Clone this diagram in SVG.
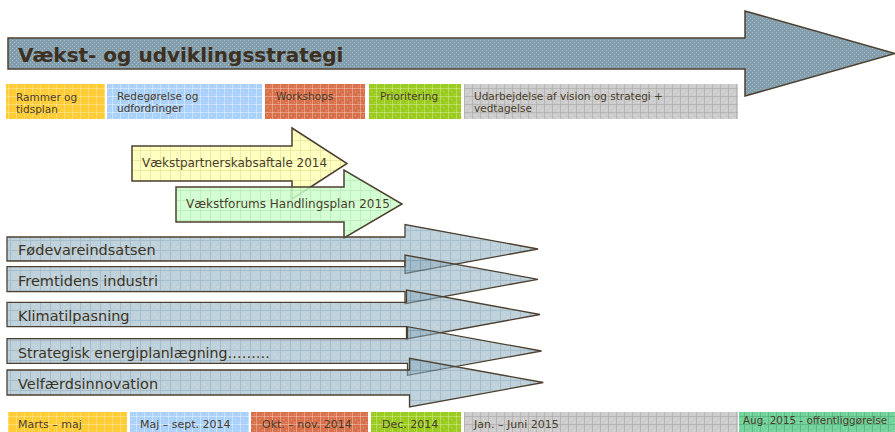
<svg xmlns="http://www.w3.org/2000/svg" width="895" height="432" viewBox="0 0 895 432">
<style>
text{font-family:"DejaVu Sans",Verdana,"Liberation Sans",sans-serif;fill:#4a3d2a}
.title{font-size:20px;font-weight:bold;fill:#3d3020}
.ph{font-size:10.5px}
.bt{font-size:11px}
.mid{font-size:12px}
.st{font-size:14.5px;fill:#3d3322}
.arr{stroke:#4d4030;stroke-width:1.5;stroke-linejoin:miter}
.sarr{fill:url(#pS);fill-opacity:.55;stroke:#4d4030;stroke-width:1.3}
</style>
<defs>
<pattern id="pT" width="4" height="4" patternUnits="userSpaceOnUse">
<rect width="4" height="4" fill="#829dac"/>
<path d="M0 0h1v1H0zM2 2h1v1H2z" fill="#a9bcc7"/>
</pattern>
<pattern id="pY" width="8" height="8" patternUnits="userSpaceOnUse">
<rect width="8" height="8" fill="#ffcc33"/>
<path d="M0 .5H8M.5 0V8" stroke="#fff" stroke-opacity=".3"/>
<path d="M3 3h1v1H3zM6 6h1v1H6z" fill="#fff" fill-opacity=".35"/>
</pattern>
<pattern id="pB" width="8" height="8" patternUnits="userSpaceOnUse">
<rect width="8" height="8" fill="#a9d1fb"/>
<path d="M0 .5H8M.5 0V8" stroke="#fff" stroke-opacity=".4"/>
<path d="M3 3h1v1H3zM6 6h1v1H6z" fill="#fff" fill-opacity=".35"/>
</pattern>
<pattern id="pO" width="8" height="8" patternUnits="userSpaceOnUse">
<rect width="8" height="8" fill="#d8714c"/>
<path d="M0 .5H8M.5 0V8" stroke="#fff" stroke-opacity=".3"/>
<path d="M3 3h1v1H3zM6 6h1v1H6z" fill="#fff" fill-opacity=".3"/>
</pattern>
<pattern id="pG" width="8" height="8" patternUnits="userSpaceOnUse">
<rect width="8" height="8" fill="#9bcb1e"/>
<path d="M0 .5H8M.5 0V8" stroke="#fff" stroke-opacity=".3"/>
<path d="M3 3h1v1H3zM6 6h1v1H6z" fill="#fff" fill-opacity=".3"/>
</pattern>
<pattern id="pGr" width="8" height="8" patternUnits="userSpaceOnUse">
<rect width="8" height="8" fill="#cdcdcd"/>
<path d="M0 .5H8M.5 0V8" stroke="#a8a8a8" stroke-opacity=".6"/>
<path d="M3 3h1v1H3zM6 6h1v1H6z" fill="#fff" fill-opacity=".4"/>
</pattern>
<pattern id="pTe" width="8" height="8" patternUnits="userSpaceOnUse">
<rect width="8" height="8" fill="#74d29c"/>
<path d="M0 .5H8M.5 0V8" stroke="#4fae78" stroke-opacity=".6"/>
<path d="M3 3h1v1H3zM6 6h1v1H6z" fill="#fff" fill-opacity=".3"/>
</pattern>
<pattern id="pLY" width="10" height="10" patternUnits="userSpaceOnUse">
<rect width="10" height="10" fill="#ffffc2"/>
<path d="M0 .5H10M.5 0V10" stroke="#e6e69a" stroke-opacity=".8"/>
</pattern>
<pattern id="pLG" width="10" height="10" patternUnits="userSpaceOnUse">
<rect width="10" height="10" fill="#ccffcc"/>
<path d="M0 .5H10M.5 0V10" stroke="#aee6ae" stroke-opacity=".8"/>
</pattern>
<pattern id="pS" width="10" height="10" patternUnits="userSpaceOnUse">
<rect width="10" height="10" fill="#8aabbd"/>
<path d="M0 .5H10M.5 0V10" stroke="#5f8aa2"/>
<path d="M4 4h1v1H4zM7 7h1v1H7z" fill="#fff" fill-opacity=".3"/>
</pattern>
</defs>
<rect width="895" height="432" fill="#fff"/>

<g id="title-arrow">
<path class="arr" fill="url(#pT)" d="M8,38 H745 V11 L895,53.5 L745,96 V69 H8 Z"/>
<text class="title" x="18" y="62">Vækst- og udviklingsstrategi</text>
</g>

<g id="phase-rammer"><rect x="6" y="84" width="99" height="35" fill="url(#pY)"/><text class="ph" x="16" y="101">Rammer og</text><text class="ph" x="16" y="113">tidsplan</text></g>
<g id="phase-redegorelse"><rect x="107" y="84" width="155" height="35" fill="url(#pB)"/><text class="ph" x="117" y="100">Redegørelse og</text><text class="ph" x="117" y="112">udfordringer</text></g>
<g id="phase-workshops"><rect x="265" y="84" width="100" height="35" fill="url(#pO)"/><text class="ph" x="276" y="100">Workshops</text></g>
<g id="phase-prioritering"><rect x="369" y="84" width="92" height="35" fill="url(#pG)"/><text class="ph" x="380" y="100">Prioritering</text></g>
<g id="phase-udarbejdelse"><rect x="464" y="84" width="274" height="35" fill="url(#pGr)"/><text class="ph" x="474" y="100">Udarbejdelse af vision og strategi +</text><text class="ph" x="474" y="112">vedtagelse</text></g>

<g id="vaekstpartnerskab">
<path class="arr" fill="url(#pLY)" d="M132,146 H292 V128 L347,163.5 L292,199 V181 H132 Z"/>
<text class="mid" x="142" y="167">Vækstpartnerskabsaftale 2014</text>
</g>
<g id="vaekstforum">
<path class="arr" fill="url(#pLG)" fill-opacity=".85" d="M176,187 H344 V170 L402,204 L344,238 V222 H176 Z"/>
<text class="mid" x="186" y="208">Vækstforums Handlingsplan 2015</text>
</g>

<g id="fodevare">
<path class="sarr" d="M7,237 H405 V224.5 L538,249 L405,273.5 V261 H7 Z"/>
<text class="st" x="18" y="255">Fødevareindsatsen</text>
</g>
<g id="fremtidens">
<path class="sarr" d="M7,266.7 H405 V255 L538,279.3 L405,303.6 V291.7 H7 Z"/>
<text class="st" x="18" y="286">Fremtidens industri</text>
</g>
<g id="klimatilpasning">
<path class="sarr" d="M7,302.3 H406.5 V290 L540,314.5 L406.5,339 V326.7 H7 Z"/>
<text class="st" x="18" y="320.5">Klimatilpasning</text>
</g>
<g id="energiplan">
<path class="sarr" d="M7,338.7 H407.5 V326.7 L541.5,351 L407.5,375.3 V363.3 H7 Z"/>
<text class="st" x="18" y="357.5" textLength="252" lengthAdjust="spacingAndGlyphs">Strategisk energiplanlægning………</text>
</g>
<g id="velfaerd">
<path class="sarr" d="M7,370 H409.5 V358.3 L543.3,382.5 L409.5,407 V395 H7 Z"/>
<text class="st" x="18" y="388.5">Velfærdsinnovation</text>
</g>

<g id="time-marts"><rect x="8" y="412" width="119" height="20" fill="url(#pY)"/><text class="bt" x="18" y="427.5">Marts – maj</text></g>
<g id="time-maj"><rect x="130" y="412" width="119" height="20" fill="url(#pB)"/><text class="bt" x="140" y="427.5">Maj – sept. 2014</text></g>
<g id="time-okt"><rect x="251" y="412" width="117" height="20" fill="url(#pO)"/><text class="bt" x="262" y="427.5">Okt. – nov. 2014</text></g>
<g id="time-dec"><rect x="371" y="412" width="90" height="20" fill="url(#pG)"/><text class="bt" x="382" y="427.5">Dec. 2014</text></g>
<g id="time-jan"><rect x="464" y="412" width="274" height="20" fill="url(#pGr)"/><text class="bt" x="474" y="427.5">Jan. – Juni 2015</text></g>
<g id="time-aug"><rect x="739" y="412" width="156" height="20" fill="url(#pTe)"/><text class="bt" x="743" y="424" textLength="144" lengthAdjust="spacingAndGlyphs">Aug. 2015 - offentliggørelse</text></g>
</svg>
